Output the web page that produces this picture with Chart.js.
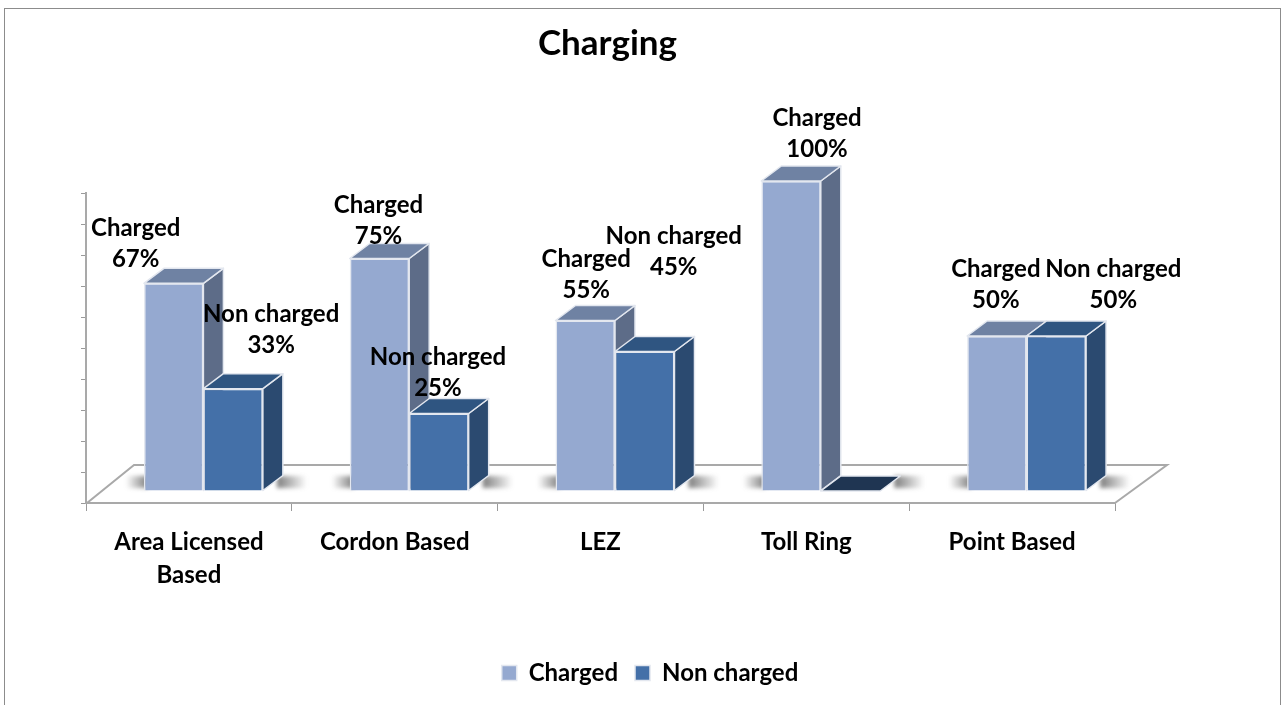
<!DOCTYPE html>
<html>
<head>
<meta charset="utf-8">
<style>html,body{margin:0;padding:0;background:#fff}#wrap{width:1285px;height:705px}canvas{display:block}</style>
<script src="https://cdn.jsdelivr.net/npm/chart.js@4"></script>
</head>
<body>
<div id="wrap"><canvas id="c" width="1285" height="705"></canvas></div>
<script>
const chartTitle = "Charging";
const categories = [["Area Licensed", "Based"], "Cordon Based", "LEZ", "Toll Ring", "Point Based"];
const charged = [67, 75, 55, 100, 50];
const nonCharged = [33, 25, 45, 0, 50];
const seriesNames = ["Charged", "Non charged"];

// Presentation only
const FONT = "Lato";
const depthX = 20, depthY = 15, shiftX = 14.5, shiftY = -12;
const faces = [
  {front: "#95a9d0", top: "#6f82a3", side: "#5d6c88"},
  {front: "#4470a8", top: "#2f5581", side: "#2b4a70", flat: "#1f3552"}
];
const labelOffsets = [
  [[-38,-55],[-1,-53],[1,-61],[26,-63],[-1,-67]],
  [[38,-74],[-1,-56],[29,-115],null,[57,-67]]
];

function drawFaces(chart, ds) {
  const c = chart.ctx, col = faces[ds];
  const vals = chart.data.datasets[ds].data;
  chart.getDatasetMeta(ds).data.forEach((el, i) => {
    const l = el.x - el.width / 2, r = el.x + el.width / 2, t = el.y, b = el.base;
    const zero = vals[i] === 0;
    if (!zero) {
      c.fillStyle = col.side;
      c.beginPath();
      c.moveTo(r, t); c.lineTo(r + depthX, t - depthY);
      c.lineTo(r + depthX, b - depthY); c.lineTo(r, b);
      c.closePath(); c.fill(); c.stroke();
    }
    c.fillStyle = zero ? col.flat : col.top;
    c.beginPath();
    c.moveTo(l, t); c.lineTo(l + depthX, t - depthY);
    c.lineTo(r + depthX, t - depthY); c.lineTo(r, t);
    c.closePath(); c.fill(); c.stroke();
  });
}

function shadow(c, xFrom, xTo, y) {
  const g = c.createLinearGradient(xFrom, 0, xTo, 0);
  g.addColorStop(0, "rgba(70,70,70,0.7)");
  g.addColorStop(1, "rgba(70,70,70,0)");
  c.fillStyle = g;
  const x0 = Math.min(xFrom, xTo);
  c.fillRect(x0, y - 15, Math.abs(xTo - xFrom), 12);
}

const threeD = {
  id: "threeD",
  beforeDraw(chart) {
    const c = chart.ctx;
    c.save();
    c.fillStyle = "#fff";
    c.fillRect(0, 0, chart.width, chart.height);
    c.strokeStyle = "#8c8c8c";
    c.lineWidth = 1;
    c.strokeRect(4.5, 8.5, 1276, 700);
    c.restore();
  },
  beforeDatasetsDraw(chart) {
    const c = chart.ctx, a = chart.chartArea;
    const by = a.bottom;
    c.save();
    c.strokeStyle = "#a9a9a9";
    c.lineWidth = 2;
    c.beginPath();
    c.moveTo(a.left + 1, by);
    c.lineTo(a.left + 48, by - 38);
    c.lineTo(a.right + 52, by - 38);
    c.lineTo(a.right, by);
    c.stroke();
    c.filter = "blur(2px)";
    const m0 = chart.getDatasetMeta(0), m1 = chart.getDatasetMeta(1);
    m0.data.forEach((el, i) => {
      const e1 = m1.data[i];
      const l = el.x - el.width / 2 + shiftX, r = e1.x + e1.width / 2 + shiftX;
      const y = by + shiftY;
      shadow(c, l + 4, l - 18, y);
      shadow(c, r + depthX - 6, r + depthX + 24, y);
    });
    c.restore();
  },
  // Datasets paint last-to-first: the second series comes first, so the first
  // series' depth faces must go down before it, leaving the fronts on top.
  beforeDatasetDraw(chart, args) {
    const c = chart.ctx;
    c.save();
    c.translate(shiftX, shiftY);
    c.strokeStyle = "#e3e7ef";
    c.lineWidth = 1.5;
    c.lineJoin = "round";
    if (args.index === 1) {
      drawFaces(chart, 0);
      drawFaces(chart, 1);
    }
  },
  afterDatasetDraw(chart) { chart.ctx.restore(); },
  afterDatasetsDraw(chart) {
    const c = chart.ctx;
    c.save();
    c.fillStyle = "#000";
    c.font = "bold 24px " + FONT;
    c.textAlign = "center";
    c.textBaseline = "middle";
    chart.data.datasets.forEach((d, ds) => {
      chart.getDatasetMeta(ds).data.forEach((el, i) => {
        const o = labelOffsets[ds][i];
        if (!o) return;
        const x = el.x + shiftX + o[0], y = el.y + shiftY + o[1];
        c.fillText(d.label, x, y);
        c.fillText(d.data[i] + "%", x, y + 31);
      });
    });
    c.restore();
  },
  afterLayout(chart) {
    const t = chart.titleBlock, l = chart.legend;
    t.left = 0; t.right = 1215; t.width = 1215;
    const lw = l.width;
    l.left = 650 - lw / 2; l.right = 650 + lw / 2;
    l.top = 644; l.bottom = l.top + l.height;
  }
};

new Chart(document.getElementById("c"), {
  type: "bar",
  data: {
    labels: categories,
    datasets: [
      {label: seriesNames[0], data: charged, clip: false, backgroundColor: faces[0].front, borderColor: "#e3e7ef", borderWidth: 1.5},
      {label: seriesNames[1], data: nonCharged, clip: false, backgroundColor: faces[1].front, borderColor: "#e3e7ef", borderWidth: 1.5}
    ]
  },
  plugins: [threeD],
  options: {
    responsive: false,
    animation: false,
    layout: {padding: {left: 81, right: 170, top: 0, bottom: 0}},
    categoryPercentage: 0.578,
    barPercentage: 1,
    plugins: {
      title: {
        display: true, text: chartTitle, color: "#000",
        font: {family: FONT, size: 35, weight: "bold"},
        padding: {top: 23, bottom: 128}
      },
      legend: {
        position: "bottom",
        labels: {color: "#000", font: {family: FONT, size: 24, weight: "bold"}, boxWidth: 15, boxHeight: 15, padding: 17}
      },
      tooltip: {enabled: false}
    },
    scales: {
      x: {
        grid: {display: true, drawOnChartArea: false, drawTicks: true, tickLength: 8, color: "#9a9a9a"},
        border: {color: "#a9a9a9", width: 2},
        ticks: {color: "#000", font: {family: FONT, size: 24, weight: "bold", lineHeight: 1.38}, padding: 15, maxRotation: 0, autoSkip: false},
        afterFit(s) { s.height = 151; }
      },
      y: {
        min: 0, max: 100,
        grid: {display: true, drawOnChartArea: false, drawTicks: true, tickLength: 5, color: "#9a9a9a"},
        border: {color: "#a9a9a9", width: 2},
        ticks: {display: false, stepSize: 10},
        afterFit(s) { s.width = 5; }
      }
    }
  }
});
</script>
</body>
</html>
